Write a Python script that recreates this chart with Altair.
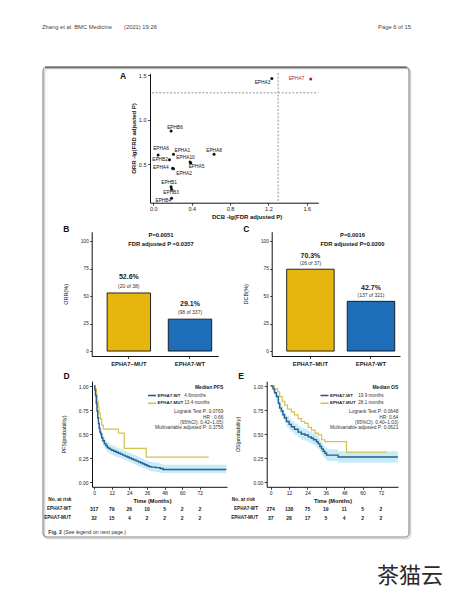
import altair as alt
import pandas as pd

FONT = "Liberation Sans"
W, H = 437, 584

# ---------------- Panel A data ----------------
genes = ["EPHA7", "EPHA3", "EPHB6", "EPHA6", "EPHA1", "EPHA8", "EPHB2",
         "EPHA10", "EPHA5", "EPHA4", "EPHA2", "EPHB1", "EPHB3", "EPHB4"]
dcb_lg = [1.641, 1.235, 0.185, 0.050, 0.210, 0.633, 0.168,
          0.383, 0.390, 0.200, 0.210, 0.185, 0.190, 0.190]
orr_lg = [1.455, 1.463, 0.873, 0.604, 0.612, 0.612, 0.550,
          0.525, 0.515, 0.455, 0.450, 0.250, 0.220, 0.120]
label_dcb = [1.493, 1.138, 0.226, 0.080, 0.302, 0.633, 0.070,
             0.336, 0.450, 0.078, 0.320, 0.164, 0.185, 0.104]
label_orr = [1.455, 1.415, 0.910, 0.668, 0.649, 0.649, 0.549,
             0.574, 0.473, 0.455, 0.388, 0.287, 0.175, 0.089]
sig_line = [1.301]

# ---------------- Panels B / C data ----------------
bar_groups = ["EPHA7\u2212MUT", "EPHA7-WT"]
orr_values = [52.8, 29.0]
orr_main = ["52.6%", "29.1%"]
orr_sub = ["(20 of 38)", "(98 of 337)"]
dcb_values = [74.4, 45.2]
dcb_main = ["70.3%", "42.7%"]
dcb_sub = ["(26 of 37)", "(137 of 321)"]
bar_colors = ["#E6B60F", "#1D6DB8"]

# ---------------- Panel D (PFS) data ----------------
pfs_wt_t = [0, 0.5, 1, 1.5, 2, 2.5, 3, 3.5, 4, 4.6, 5.2, 6, 7, 8, 9, 10, 11, 12,
            13.5, 15, 16.5, 18, 19.5, 21, 22.5, 24, 25.5, 27, 28.5, 30, 31.5,
            33, 34.5, 36, 37.5, 39, 42, 45, 47, 90]
pfs_wt_s = [1.0, 0.96, 0.90, 0.82, 0.74, 0.67, 0.61, 0.56, 0.52, 0.50, 0.46,
            0.43, 0.40, 0.38, 0.36, 0.35, 0.34, 0.33, 0.32, 0.31, 0.30, 0.29,
            0.28, 0.27, 0.26, 0.25, 0.24, 0.23, 0.22, 0.21, 0.20, 0.19, 0.18,
            0.17, 0.16, 0.155, 0.15, 0.14, 0.13, 0.13]
pfs_wt_hi = [1.0, 0.98, 0.93, 0.86, 0.79, 0.72, 0.66, 0.61, 0.57, 0.55, 0.51,
             0.48, 0.45, 0.43, 0.41, 0.40, 0.39, 0.38, 0.37, 0.36, 0.35, 0.34,
             0.33, 0.32, 0.31, 0.30, 0.29, 0.28, 0.27, 0.26, 0.25, 0.24, 0.23,
             0.22, 0.21, 0.205, 0.20, 0.19, 0.18, 0.18]
pfs_wt_lo = [1.0, 0.94, 0.87, 0.78, 0.69, 0.62, 0.56, 0.51, 0.47, 0.45, 0.41,
             0.38, 0.35, 0.33, 0.31, 0.30, 0.29, 0.28, 0.27, 0.26, 0.255, 0.245,
             0.235, 0.225, 0.215, 0.205, 0.195, 0.185, 0.175, 0.165, 0.155,
             0.145, 0.135, 0.125, 0.115, 0.11, 0.105, 0.095, 0.09, 0.09]
pfs_mut_t = [0, 0.8, 1.5, 2.2, 2.8, 3.4, 4.2, 5.2, 6.3, 16.6, 20.5, 35.5, 78]
pfs_mut_s = [1.0, 0.97, 0.91, 0.84, 0.78, 0.72, 0.66, 0.59, 0.55, 0.51, 0.35,
             0.26, 0.26]

# ---------------- Panel E (OS) data ----------------
os_wt_t = [0, 1.5, 2.5, 3.7, 5, 5.9, 7, 8, 9, 10.3, 12, 13.5, 15.5, 17.9, 20,
           22.3, 24.5, 26.6, 28, 29.9, 31, 32.1, 33.2, 34.3, 35.4, 36.5, 44, 83]
os_wt_s = [1.0, 0.97, 0.93, 0.89, 0.82, 0.77, 0.74, 0.70, 0.67, 0.63, 0.60,
           0.575, 0.55, 0.52, 0.50, 0.49, 0.47, 0.455, 0.44, 0.42, 0.40, 0.37,
           0.345, 0.32, 0.30, 0.28, 0.26, 0.26]
os_wt_hi = [1.0, 0.99, 0.96, 0.93, 0.87, 0.82, 0.79, 0.75, 0.72, 0.69, 0.66,
            0.635, 0.61, 0.58, 0.56, 0.55, 0.53, 0.515, 0.50, 0.48, 0.46, 0.43,
            0.405, 0.38, 0.36, 0.34, 0.32, 0.32]
os_wt_lo = [1.0, 0.95, 0.90, 0.85, 0.77, 0.72, 0.69, 0.65, 0.62, 0.57, 0.54,
            0.515, 0.49, 0.46, 0.44, 0.43, 0.41, 0.395, 0.38, 0.36, 0.34, 0.31,
            0.285, 0.26, 0.24, 0.22, 0.20, 0.20]
os_mut_t = [0, 2.5, 4.5, 5.9, 7.5, 9.2, 11, 13.5, 15.5, 17.9, 20, 22.3, 24.5,
            26.6, 29, 31, 33.2, 35.3, 49.5, 76]
os_mut_s = [1.0, 0.97, 0.94, 0.89, 0.84, 0.80, 0.76, 0.73, 0.70, 0.66, 0.63,
            0.61, 0.57, 0.54, 0.51, 0.49, 0.44, 0.42, 0.31, 0.31]

# ---------------- risk tables ----------------
risk_times = [0, 12, 24, 36, 48, 60, 72]
pfs_risk_wt = [317, 79, 26, 10, 5, 2, 2]
pfs_risk_mut = [32, 15, 4, 2, 2, 2, 2]
os_risk_wt = [274, 138, 75, 19, 11, 5, 2]
os_risk_mut = [37, 28, 17, 5, 4, 2, 2]

KM_BLUE = "#2B5C8C"
KM_GOLD = "#D6C14C"
KM_BAND = "#C6ECF7"


def px(v):
    return v - 8


one = pd.DataFrame({"k": [0]})


def txt(s, x, y, size=5.0, weight="normal", align="left", color="#1a1a1a", font=FONT):
    return alt.Chart(one).mark_text(
        align=align, baseline="middle", fontSize=size, fontWeight=weight,
        color=color, font=font
    ).encode(x=alt.value(px(x)), y=alt.value(px(y)), text=alt.value(s))


def seg(x1, x2, y, color, width=1.0):
    return alt.Chart(one).mark_rule(color=color, strokeWidth=width).encode(
        x=alt.value(px(x1)), x2=alt.value(px(x2)), y=alt.value(px(y)))


def lin(domain, r0, r1):
    return alt.Scale(domain=domain, range=[px(r0), px(r1)], nice=False, zero=False)


layers = []

# ---------------- page furniture ----------------
layers.append(alt.Chart(one).mark_rect(fillOpacity=0, stroke="#d4d4d4", strokeWidth=1.6, cornerRadius=4).encode(
    x=alt.value(px(44.5)), x2=alt.value(px(410.5)), y=alt.value(px(68.5)), y2=alt.value(px(538.5))))
layers.append(alt.Chart(one).mark_rect(fillOpacity=0, stroke="#8a8a8a", strokeWidth=1.2, cornerRadius=4).encode(
    x=alt.value(px(43)), x2=alt.value(px(409)), y=alt.value(px(67)), y2=alt.value(px(537))))
layers.append(seg(45, 407, 67.3, "#6e6e6e", 1.8))
layers.append(txt("Zhang et al. BMC Medicine", 42, 27, 5.8, color="#444"))
layers.append(txt("(2021) 19:26", 124, 27, 5.8, color="#444"))
layers.append(txt("Page 6 of 15", 411, 27, 5.8, align="right", color="#444"))
layers.append(txt("Fig. 2", 48.3, 531.5, 5.2, weight="bold", color="#333"))
layers.append(txt("(See legend on next page.)", 63.5, 531.5, 5.2, color="#333"))
layers.append(txt("茶猫云", 443, 576, 22, align="right", color="#2a2a2a", font="Noto Sans CJK SC"))

# ---------------- Panel A ----------------
A_X = lin([-0.035, 1.72], 150, 318.3)
A_Y = lin([0.07, 1.52], 202.7, 73.3)
dfA = pd.DataFrame({"gene": genes, "dcb": dcb_lg, "orr": orr_lg,
                    "lx": label_dcb, "ly": label_orr,
                    "col": ["#B01E2A" if g == "EPHA7" else "#111111" for g in genes]})
sig = pd.DataFrame({"v": sig_line})
layers.append(alt.Chart(sig).mark_rule(color="#777", strokeWidth=0.8, strokeDash=[2, 1.6]).encode(
    y=alt.Y("v:Q", scale=A_Y, axis=None), x=alt.value(px(152)), x2=alt.value(px(318.3))))
layers.append(alt.Chart(sig).mark_rule(color="#777", strokeWidth=0.8, strokeDash=[2, 1.6]).encode(
    x=alt.X("v:Q", scale=A_X, axis=None), y=alt.value(px(73)), y2=alt.value(px(202.7))))
layers.append(alt.Chart(dfA).mark_circle(size=9, opacity=1).encode(
    x=alt.X("dcb:Q", scale=A_X, axis=alt.Axis(
        orient="bottom", offset=px(202.7) - H, values=[0, 0.4, 0.8, 1.2, 1.6], format=".1f",
        title="DCB -lg(FDR adjusted P)", titleX=px(246.7), titleY=14, titleBaseline="middle",
        titleAlign="center", titleFontSize=6, titleFontWeight="bold", labelFontSize=5.5,
        tickSize=2.5, labelPadding=1.5, labelFlush=False)),
    y=alt.Y("orr:Q", scale=A_Y, axis=alt.Axis(
        orient="left", offset=-px(150), values=[0.5, 1.0, 1.5], format=".1f",
        title="ORR -lg(FRD adjusted P)", titleFontSize=6, titleFontWeight="bold",
        labelFontSize=5.5, tickSize=2.5, labelPadding=1.5, titlePadding=2, labelFlush=False)),
    color=alt.Color("col:N", scale=None)))
layers.append(alt.Chart(dfA).mark_text(fontSize=4.8, font=FONT).encode(
    x=alt.X("lx:Q", scale=A_X, axis=None), y=alt.Y("ly:Q", scale=A_Y, axis=None),
    text="gene:N", color=alt.Color("col:N", scale=None)))
layers.append(txt("A", 120, 75.5, 8.5, weight="bold", color="#111"))

# ---------------- Panels B and C ----------------
Y_BAR = lin([-4.5, 108.5], 356, 231.7)


def bar_panel(values, mains, subs, x0, x1, p_in, p_out, align, dy_main, dy_sub, title, p_txt, fdr_txt,
              p_center, letter):
    xs = alt.Scale(type="band", domain=bar_groups, range=[px(x0), px(x1)],
                   paddingInner=p_in, paddingOuter=p_out, align=align)
    df = pd.DataFrame({"grp": bar_groups, "v": values, "base": [0, 0],
                       "main": mains, "sub": subs, "fill": bar_colors})
    out = []
    out.append(alt.Chart(df).mark_bar(stroke="#111", strokeWidth=0.9).encode(
        x=alt.X("grp:N", scale=xs, sort=bar_groups, axis=alt.Axis(
            orient="bottom", offset=px(356) - H, title=None, labelAngle=0, labelFontSize=5.8,
            labelFontWeight="bold", tickSize=2.5, labelPadding=2)),
        y=alt.Y("v:Q", scale=Y_BAR, axis=alt.Axis(
            orient="left", offset=-px(x0), values=[0, 25, 50, 75, 100], title=title,
            titleFontSize=5.5, titleFontWeight="normal", labelFontSize=4.6, tickSize=2,
            labelPadding=1.5, titlePadding=12, labelFlush=False)),
        y2="base:Q",
        fill=alt.Fill("fill:N", scale=None)))
    out.append(alt.Chart(df).mark_text(fontSize=7, fontWeight="bold", font=FONT, dy=dy_main, color="#222").encode(
        x=alt.X("grp:N", scale=xs, sort=bar_groups, axis=None),
        y=alt.Y("v:Q", scale=Y_BAR, axis=None), text="main:N"))
    out.append(alt.Chart(df).mark_text(fontSize=5, font=FONT, dy=dy_sub, color="#333").encode(
        x=alt.X("grp:N", scale=xs, sort=bar_groups, axis=None),
        y=alt.Y("v:Q", scale=Y_BAR, axis=None), text="sub:N"))
    out.append(txt(p_txt, p_center, 234.5, 5.8, weight="bold", align="center", color="#111"))
    out.append(txt(fdr_txt, p_center, 243.5, 5.8, weight="bold", align="center", color="#111"))
    out.append(txt(letter, x0 - 28.5, 229, 8.5, weight="bold", color="#111"))
    return out


layers += bar_panel(orr_values, orr_main, orr_sub, 91.7, 218.3, 0.29, 0.18, 0.70, -15.5, -7,
                    "ORR(%)", "P=0.0051", "FDR adjusted P =0.0357", 161, "B")
layers += bar_panel(dcb_values, dcb_main, dcb_sub, 271.7, 400, 0.216, 0.167, 0.74, -13.3, -6.2,
                    "DCB(%)", "P=0.0016", "FDR adjusted P=0.0200", 352.5, "C")

# ---------------- Panels D and E ----------------
KM_Y = lin([-0.05, 1.05], 486.8, 381.2)


def km_panel(xs, x0, wt_t, wt_s, wt_lo, wt_hi, mut_t, mut_s, ytitle, title_cx,
             risk_wt, risk_mut, label_right, nrisk_right, letter, legend):
    out = []
    band = pd.DataFrame({"t": wt_t, "lo": wt_lo, "hi": wt_hi})
    wt = pd.DataFrame({"t": wt_t, "s": wt_s})
    mut = pd.DataFrame({"t": mut_t, "s": mut_s})
    out.append(alt.Chart(band).mark_area(interpolate="step-after", color=KM_BAND, opacity=1).encode(
        x=alt.X("t:Q", scale=xs, axis=None), y=alt.Y("lo:Q", scale=KM_Y, axis=None), y2="hi:Q"))
    out.append(alt.Chart(mut).mark_line(interpolate="step-after", color=KM_GOLD, strokeWidth=1.2).encode(
        x=alt.X("t:Q", scale=xs, axis=None), y=alt.Y("s:Q", scale=KM_Y, axis=None)))
    out.append(alt.Chart(wt).mark_line(interpolate="step-after", color=KM_BLUE, strokeWidth=1.4).encode(
        x=alt.X("t:Q", scale=xs, axis=alt.Axis(
            orient="bottom", offset=px(486.8) - H, values=risk_times, title="Time (Months)",
            titleX=px(title_cx), titleY=13.2, titleBaseline="middle", titleAlign="center",
            titleFontSize=5.6, titleFontWeight="bold", labelFontSize=5, tickSize=2.5,
            labelPadding=1, labelFlush=False)),
        y=alt.Y("s:Q", scale=KM_Y, axis=alt.Axis(
            orient="left", offset=-px(x0), values=[0, 0.25, 0.5, 0.75, 1.0], format=".2f",
            title=ytitle, titleFontSize=5.3, titleFontWeight="normal", labelFontSize=5,
            tickSize=2.5, labelPadding=1.5, titlePadding=12, labelFlush=False))))
    rw = pd.DataFrame({"t": risk_times, "n": risk_wt})
    rm = pd.DataFrame({"t": risk_times, "n": risk_mut})
    for dfr, yy in ((rw, 509), (rm, 518.3)):
        out.append(alt.Chart(dfr).mark_text(fontSize=5, fontWeight="bold", font=FONT, color="#222",
                                            baseline="middle").encode(
            x=alt.X("t:Q", scale=xs, axis=None), y=alt.value(px(yy)), text="n:Q"))
    out.append(txt("No. at risk", nrisk_right, 500, 4.8, weight="bold", align="right", color="#222"))
    out.append(txt("EPHA7-WT", label_right, 509, 4.6, weight="bold", align="right", color="#222"))
    out.append(txt("EPHA7-MUT", label_right, 518.3, 4.6, weight="bold", align="right", color="#222"))
    out.append(txt(letter, x0 - 28.5, 375.5, 8.5, weight="bold", color="#111"))
    # legend block
    (head, wt_med, mut_med, lr, hr, ci, mv, right, lx, mx) = legend
    out.append(txt(head, right, 386.5, 5, weight="bold", align="right", color="#222"))
    out.append(seg(lx - 9.5, lx - 1.5, 395.5, KM_BLUE, 1.6))
    out.append(seg(lx - 9.5, lx - 1.5, 403.3, KM_GOLD, 1.6))
    out.append(txt("EPHA7-WT", lx, 395.5, 4.4, weight="bold", color="#222"))
    out.append(txt("EPHA7-MUT", lx, 403.3, 4.4, weight="bold", color="#222"))
    out.append(txt(wt_med, mx, 395.5, 4.6, color="#333"))
    out.append(txt(mut_med, mx, 403.3, 4.6, color="#333"))
    out.append(txt(lr, right, 412.3, 4.8, align="right", color="#333"))
    out.append(txt(hr, right, 417.6, 4.8, align="right", color="#333"))
    out.append(txt(ci, right, 422.8, 4.8, align="right", color="#333"))
    out.append(txt(mv, right, 428.1, 4.8, align="right", color="#333"))
    return out


D_X = lin([-1.4, 90.5], 92, 227)
E_X = lin([-2.6, 83.1], 266.7, 398)

layers += km_panel(D_X, 92, pfs_wt_t, pfs_wt_s, pfs_wt_lo, pfs_wt_hi, pfs_mut_t, pfs_mut_s,
                   "PFS(probability)", 152, pfs_risk_wt, pfs_risk_mut, 71, 71.5, "D",
                   ("Median PFS", "4.6months", "13.4 months", "Logrank Test P: 0.0769",
                    "HR : 0.66", "(95%CI): 0.42~1.05)", "Multivariable adjusted P: 0.3756",
                    223.3, 157.5, 184.3))
layers += km_panel(E_X, 266.7, os_wt_t, os_wt_s, os_wt_lo, os_wt_hi, os_mut_t, os_mut_s,
                   "OS(probability)", 332.5, os_risk_wt, os_risk_mut, 258, 255, "E",
                   ("Median OS", "19.9 months", "28.1 months", "Logrank Test P: 0.0648",
                    "HR: 0.64", "(95%CI): 0.40~1.03)", "Multivariable adjusted P: 0.0621",
                    398.3, 330, 358.3))

chart = alt.layer(*layers).resolve_scale(
    x="independent", y="independent"
).properties(
    width=W, height=H, autosize=alt.AutoSizeParams(type="none"), padding=0, background="white"
).configure_view(strokeWidth=0).configure_axis(
    labelFont=FONT, titleFont=FONT, labelColor="#1a1a1a", titleColor="#111",
    domainColor="#111", tickColor="#111", domainWidth=1, tickWidth=0.8, grid=False, zindex=1
)

chart.save("out.html", embed_options={"renderer": "svg", "actions": False})
